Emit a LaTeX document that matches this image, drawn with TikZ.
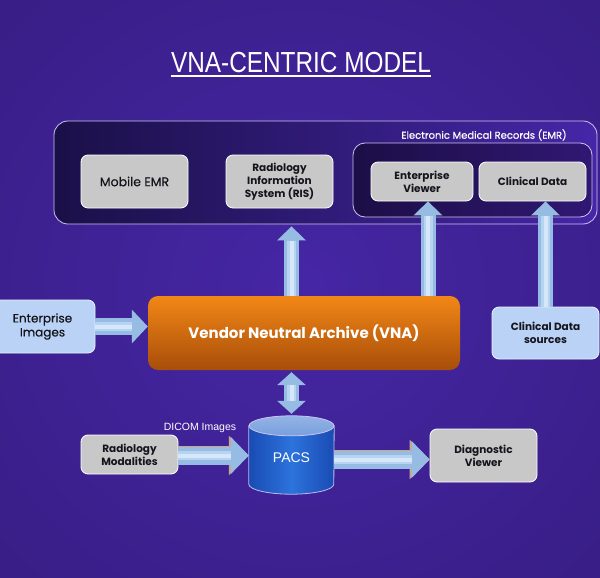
\documentclass[tikz,border=0pt]{standalone}
\usepackage{fontspec}
\setmainfont{Poppins}
\newfontfamily\medfont{Poppins}[FakeBold=0.4]
\newfontfamily\arialfont{Liberation Sans}
\newfontfamily\titlefont{Liberation Sans}[FakeStretch=0.84]
\usetikzlibrary{arrows.meta}

\definecolor{bgin}{RGB}{70,38,165}
\definecolor{bgmid}{RGB}{56,30,134}
\definecolor{bgout}{RGB}{36,20,88}
\definecolor{frame}{RGB}{205,195,240}
\definecolor{emrleft}{RGB}{26,16,72}
\definecolor{emrright}{RGB}{70,38,168}
\definecolor{innerleft}{RGB}{28,14,70}
\definecolor{innerright}{RGB}{48,24,115}
\definecolor{boxgray}{RGB}{200,200,200}
\definecolor{boxblue}{RGB}{185,210,245}
\definecolor{arrowedge}{RGB}{150,188,228}
\definecolor{arrowmid}{RGB}{182,212,242}
\definecolor{arrowlight}{RGB}{214,231,250}
\definecolor{arrowrim}{RGB}{205,165,140}
\definecolor{vnatop}{RGB}{242,135,22}
\definecolor{vnabot}{RGB}{168,78,10}
\definecolor{pacsedge}{RGB}{25,75,180}
\definecolor{pacsmid}{RGB}{45,115,220}
\definecolor{pacstop}{RGB}{120,160,222}
\definecolor{textdark}{RGB}{20,20,28}

\pgfdeclareradialshading{bgshade}{\pgfpoint{0bp}{0bp}}{%
  color(0bp)=(bgin); color(35bp)=(bgmid); color(71bp)=(bgout)}

\tikzset{
  titletext/.style={text=white, inner sep=0pt, font=\titlefont\fontsize{29}{32}\selectfont},
  graybox/.style={draw=white, line width=0.8pt, fill=boxgray, rounded corners=7pt,
    align=center, text=textdark, inner sep=0pt},
  bluebox/.style={draw=white!70!boxblue, line width=0.8pt, fill=boxblue, rounded corners=7pt,
    align=center, text=textdark, inner sep=0pt},
  boldtext/.style={font=\bfseries\fontsize{10.5}{13}\selectfont},
  plaintext/.style={font=\medfont\fontsize{12.5}{14.5}\selectfont},
  fatarrow/.style={draw=arrowedge,
    postaction={draw=arrowmid, line width=9pt, arrows=-, shorten >=#1},
    postaction={draw=arrowlight, line width=4pt, arrows=-, shorten >=#1}},
  fatarrow/.default=15pt,
  dblarrow/.style={draw=arrowedge, line width=15pt,
    arrows={Triangle[width=28pt, length=13pt]-Triangle[width=28pt, length=13pt]},
    postaction={draw=arrowmid, line width=9pt, arrows=-, shorten <=13pt, shorten >=13pt},
    postaction={draw=arrowlight, line width=4pt, arrows=-, shorten <=13pt, shorten >=13pt}},
  rimmed/.style={preaction={draw=arrowrim, line width=19.6pt, arrows={-Triangle[width=38.5pt, length=20pt]}}},
  vtip/.style={line width=15pt, arrows={-Triangle[width=28pt, length=14pt]}},
  htip/.style={line width=17pt, arrows={-Triangle[width=33pt, length=16pt]}},
  bigtip/.style={line width=18pt, arrows={-Triangle[width=36pt, length=18pt]}}
}

\begin{document}
\begin{tikzpicture}[x=1pt, y=-1pt]
  \useasboundingbox (0,0) rectangle (600,578);
  \clip (0,0) rectangle (600,578);
  \shade[shading=bgshade] (0,0) rectangle (600,578);

  % title
  \node[titletext] (title) at (301,63) {VNA-CENTRIC MODEL};
  \draw[white, line width=1.6pt] ([yshift=-3pt]title.base west) -- ([yshift=-3pt]title.base east);

  % EMR group
  \node[draw=frame, line width=0.8pt, rounded corners=14pt, minimum width=543pt, minimum height=103pt,
    left color=emrleft, right color=emrright] (emr) at (325.5,172.5) {};
  \node[draw=frame, line width=0.8pt, rounded corners=12pt, minimum width=239pt, minimum height=74pt,
    left color=innerleft, right color=innerright] (emrin) at (472.5,180) {};
  \node[text=white, font=\medfont\fontsize{10}{12}\selectfont] (emrlabel) at (484,135) {Electronic Medical Records (EMR)};

  \node[graybox, plaintext, minimum width=107pt, minimum height=53pt] (mobile) at (134.5,181.5) {Mobile EMR};
  \node[graybox, boldtext, minimum width=107pt, minimum height=53pt] (ris) at (279.5,181.5)
    {Radiology\\Information\\System (RIS)};
  \node[graybox, boldtext, minimum width=102pt, minimum height=39pt] (ev) at (422,181.5) {Enterprise\\Viewer};
  \node[graybox, boldtext, minimum width=107pt, minimum height=39pt] (cd) at (532.5,181.5) {Clinical Data};

  % archive row
  \node[rounded corners=10pt, top color=vnatop, bottom color=vnabot, minimum width=312pt, minimum height=74pt,
    text=white, font=\bfseries\fontsize{15}{18}\selectfont] (vna) at (304,333) {Vendor Neutral Archive (VNA)};
  \node[bluebox, font=\medfont\fontsize{12}{14}\selectfont, minimum width=105pt, minimum height=53pt] (ei) at (42.5,326.5)
    {Enterprise\\Images};
  \node[bluebox, boldtext, minimum width=107pt, minimum height=52pt] (cds) at (545.5,333) {Clinical Data\\sources};

  % PACS row
  \node[minimum width=85pt, minimum height=78pt, inner sep=0pt] (pacs) at (291.5,455) {};
  \draw[draw=frame!80!pacstop, line width=0.8pt, left color=pacsedge, right color=pacsedge, middle color=pacsmid]
    ([yshift=-10pt]pacs.north west) -- ([yshift=10pt]pacs.south west)
    arc[start angle=180, end angle=360, x radius=42.5pt, y radius=10pt]
    -- ([yshift=-10pt]pacs.north east) -- cycle;
  \draw[draw=frame, line width=0.8pt, top color=pacstop!80!white, bottom color=pacstop]
    ([yshift=-10pt]pacs.north) ellipse [x radius=42.5pt, y radius=10pt];
  \node[text=white, font=\arialfont\fontsize{14}{16}\selectfont] (pacslabel) at ([yshift=-3pt]pacs.center) {PACS};

  \node[graybox, boldtext, minimum width=97pt, minimum height=39pt] (rm) at (129.5,454.5) {Radiology\\Modalities};
  \node[graybox, boldtext, minimum width=107pt, minimum height=53pt] (dv) at (483.5,455.5) {Diagnostic\\Viewer};
  \node[text=white, font=\arialfont\fontsize{10.5}{12}\selectfont] (dicom) at (200,428) {DICOM Images};

  % flows
  \draw[fatarrow, vtip] (vna.north -| pacs.north) -- ([yshift=-2pt]emr.south -| pacs.north);
  \draw[fatarrow, vtip] ([xshift=6pt]vna.north -| ev.south) -- ([xshift=6pt]ev.south);
  \draw[fatarrow, vtip] (cds.north) -- (cds.north |- cd.south);
  \draw[fatarrow=16pt, htip] (ei.east) -- (ei.east -| vna.west);
  \draw[dblarrow] ([yshift=-2pt]vna.south -| pacs.north) -- ([yshift=2pt]pacs.north);
  \draw[rimmed, fatarrow=18pt, bigtip] ([yshift=-1pt]rm.east) -- ([yshift=-1pt]rm.east -| pacs.west);
  \draw[rimmed, fatarrow=18pt, bigtip] ([yshift=-4pt]pacs.east |- dv.west) -- ([yshift=-4pt]dv.west);
\end{tikzpicture}
\end{document}
